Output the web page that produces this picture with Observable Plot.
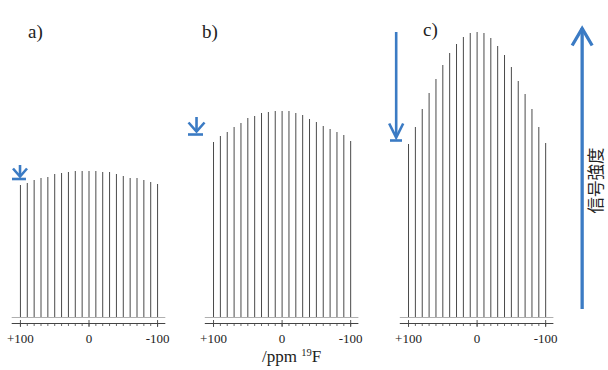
<!DOCTYPE html>
<html><head><meta charset="utf-8">
<script src="https://cdn.jsdelivr.net/npm/d3@7"></script>
<script src="https://cdn.jsdelivr.net/npm/@observablehq/plot@0.6"></script>
<style>
html,body{margin:0;padding:0;background:#fff;}
#wrap{position:relative;width:608px;height:370px;overflow:hidden;background:#fff;}
.panel{position:absolute;top:0;}
.lbl{position:absolute;font-family:"Liberation Serif","DejaVu Serif",serif;color:#222;line-height:1;white-space:nowrap;}
</style></head><body>
<div id="wrap"></div>
<script>
// chemical shift positions (ppm, 19F)
const ppm = [100, 90, 80, 70, 60, 50, 40, 30, 20, 10, 0, -10, -20, -30, -40, -50, -60, -70, -80, -90, -100];
// signal intensity (arbitrary units, common scale across panels)
const intensityA = [132, 134, 137, 139, 140, 143, 144, 145, 146, 146, 146, 146, 145, 145, 143, 141, 139, 139, 137, 135, 133];
const intensityB = [175, 181, 185, 190, 194, 199, 201, 204, 205, 206, 206, 206, 204, 202, 198, 195, 191, 188, 185, 182, 176];
const intensityC = [173, 190, 208, 224, 238, 252, 264, 273, 280, 284, 285, 284, 279, 271, 262, 250, 236, 223, 208, 190, 174];
const majorTicks = [100, 0, -100];
const tickLabels = ["+100", "0", "-100"];
const minorTicks = [100, 90, 80, 70, 60, 50, 40, 30, 20, 10, 0, -10, -20, -30, -40, -50, -60, -70, -80, -90, -100];
const panelLabels = ["a)", "b)", "c)"];
const axisTitle = "/ppm <sup style='font-size:0.62em;vertical-align:0.55em'>19</sup>F";
const sideLabel = "信号強度";
// blue markers: shaft x (ppm), shaft top, tip, bar level, bar extent
const arrowA = {x: 100.6, top: 152, tip: 141, bar: 138.5, bar1: 111.6, bar2: 91.2, half: 7, tall: 8};
const arrowB = {x: 124.8, top: 200, tip: 186, bar: 183, bar1: 136.5, bar2: 114.6, half: 8, tall: 9};
const arrowC = {x: 118, top: 285, tip: 180, bar: 177, bar1: 126.3, bar2: 108.8, half: 7, tall: 14};
const bigArrow = {x: -153.2, bottom: 8, tip: 289, half: 10, tall: 17};
const sideLabelPos = {x: -174, y: 137};

const BLUE = "#3b7bc4";
const INK = "#444";

function chevron(aspect) {
  return {draw(ctx, size) {
    const r = Math.sqrt(size / Math.PI);
    ctx.moveTo(-r, -r * aspect);
    ctx.lineTo(0, 0);
    ctx.lineTo(r, -r * aspect);
  }};
}

function arrowMarks(a) {
  return [
    Plot.ruleX([a], {x: "x", y1: "top", y2: "tip", stroke: BLUE, strokeWidth: 2.6}),
    Plot.dot([a], {x: "x", y: "tip", r: a.half, symbol: chevron(a.tall / a.half), fill: "none", stroke: BLUE, strokeWidth: 2.6}),
    Plot.ruleY([a], {y: "bar", x1: "bar1", x2: "bar2", stroke: BLUE, strokeWidth: 2.6})
  ];
}

function panel(values, arrow, width, marginLeft, marginRight, extra) {
  const data = ppm.map((p, i) => ({ppm: p, h: values[i]}));
  return Plot.plot({
    width, height: 370,
    marginTop: 0, marginBottom: 47, marginLeft, marginRight,
    x: {domain: [112, -112], axis: null},
    y: {domain: [-6, 317], axis: null},
    style: {background: "transparent", overflow: "visible", fontFamily: "'Liberation Serif', serif", fontSize: "12px", color: "#333"},
    marks: [
      Plot.ruleY([0], {stroke: "#9a9a9a", strokeWidth: 0.8}),
      Plot.ruleX(data, {x: "ppm", y1: 0, y2: "h", stroke: "#4a4a4a", strokeWidth: 1}),
      Plot.ruleY([-6], {stroke: INK, strokeWidth: 1}),
      Plot.ruleX(minorTicks, {x: d => d, y1: -6, y2: -9, stroke: INK, strokeWidth: 0.8}),
      Plot.ruleX(majorTicks, {x: d => d, y1: -3, y2: -10, stroke: INK, strokeWidth: 0.9}),
      Plot.text(majorTicks, {x: d => d, y: -21, text: d => tickLabels[majorTicks.indexOf(d)], fontSize: 13, fontFamily: "'Liberation Serif', serif", fill: "#222"}),
      ...arrowMarks(arrow),
      ...(extra || [])
    ]
  });
}

const wrap = document.getElementById("wrap");
function place(node, left) {
  node.classList.add("panel");
  node.style.left = left + "px";
  wrap.appendChild(node);
}

place(panel(intensityA, arrowA, 180, 11.7, 14.7), 0);
place(panel(intensityB, arrowB, 195, 24.8, 16.6), 180);
place(panel(intensityC, arrowC, 233, 24.8, 54.6, [
  Plot.ruleX([bigArrow], {x: "x", y1: "bottom", y2: "tip", stroke: BLUE, strokeWidth: 3.3}),
  Plot.dot([bigArrow], {x: "x", y: "tip", r: bigArrow.half, symbol: chevron(bigArrow.tall / bigArrow.half), rotate: 180, fill: "none", stroke: BLUE, strokeWidth: 3.3}),
  Plot.text([sideLabel], {x: sideLabelPos.x, y: sideLabelPos.y, text: d => d, rotate: -90, fontSize: 16.5, fontFamily: "'Noto Sans CJK JP', sans-serif", fill: "#222"})
]), 375);

const labelPos = [[28, 22], [202, 22], [423, 20]];
panelLabels.forEach((t, i) => {
  const d = document.createElement("div");
  d.className = "lbl";
  d.style.fontSize = "19px";
  d.style.left = labelPos[i][0] + "px";
  d.style.top = labelPos[i][1] + "px";
  d.textContent = t;
  wrap.appendChild(d);
});

const at = document.createElement("div");
at.className = "lbl";
at.style.fontSize = "17px";
at.style.left = "262px";
at.style.top = "348px";
at.innerHTML = axisTitle;
wrap.appendChild(at);
</script>
</body></html>
